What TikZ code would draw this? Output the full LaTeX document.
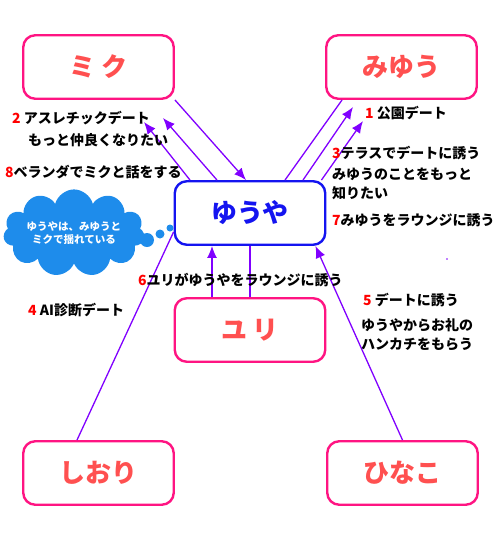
\documentclass[tikz,border=0pt]{standalone}
\usepackage{fontspec}
\usepackage{xcolor}
\usetikzlibrary{arrows.meta,shapes.symbols}
\newfontfamily\jp{Noto Sans CJK JP Black}
\definecolor{boxpink}{RGB}{255,20,130}
\definecolor{namered}{RGB}{255,80,80}
\definecolor{heroblue}{RGB}{20,20,240}
\definecolor{linkpurple}{RGB}{128,0,255}
\definecolor{numred}{RGB}{255,0,0}
\definecolor{cloudblue}{RGB}{30,140,235}
\newcommand\nr[1]{\textcolor{numred}{#1}}
\tikzset{
  person/.style={draw=boxpink, line width=2.4pt, rounded corners=12pt,
    minimum width=150.5pt, minimum height=63.5pt, text=namered,
    font=\jp\fontsize{26}{26}\selectfont},
  hero/.style={person, draw=heroblue, text=heroblue},
  lbl/.style={anchor=west, inner sep=0pt, font=\jp\fontsize{14}{14}\selectfont},
  link/.style={draw=linkpurple, line width=1.3pt},
  arr/.style={link, -{Latex[length=12pt,width=10pt]}},
}
\begin{document}
\begin{tikzpicture}[x=1pt,y=-1pt]
\useasboundingbox (0,0) rectangle (500,542);
% people
\node[person] (miku) at (98.5,67) {ミ ク};
\node[person] (miyuu) at (401.5,67) {みゆう};
\node[hero] (yuuya) at (250,213) {ゆうや};
\node[person] (yuri) at (250,330) {ユ リ};
\node[person] (shiori) at (98.5,473) {しおり};
\node[person] (hinako) at (402.5,473) {ひなこ};
% free arrow ends
\coordinate (m2) at (163,118);
\coordinate (m3) at (144,122);
\coordinate (y2) at (353,107);
\coordinate (y3) at (363,121);
% links
\draw[arr] (miku.south east) -- ([xshift=-4pt]yuuya.north);
\draw[arr] ([xshift=-33pt]yuuya.north) -- (m2);
\draw[arr] ([xshift=-60pt]yuuya.north) -- (m3);
\draw[link] ([xshift=35pt]yuuya.north) -- ([xshift=17pt]miyuu.south west);
\draw[arr] ([xshift=53pt]yuuya.north) -- (y2);
\draw[arr] ([xshift=-5pt]yuuya.north east) -- (y3);
\draw[arr] ([xshift=-38pt]yuri.north) -- ([xshift=-38pt]yuuya.south);
\draw[link] (yuuya.south) -- (yuri.north);
\draw[link] ([xshift=-21.5pt]shiori.north) -- ([yshift=-19pt]yuuya.west);
\draw[arr] (hinako.north) -- ([xshift=-11pt]yuuya.south east);
\fill[linkpurple] (447,259) circle (0.8);
% labels
\node[lbl] (l2a) at (12,118) {\nr{2} アスレチックデート};
\node[lbl] (l2b) at (28,140) {もっと仲良くなりたい};
\node[lbl] (l8) at (5,172) {\nr{8}ベランダでミクと話をする};
\node[lbl] (l1) at (365,113) {\nr{1} 公園デート};
\node[lbl] (l3a) at (332,153) {\nr{3}テラスでデートに誘う};
\node[lbl] (l3b) at (332,174) {みゆうのことをもっと};
\node[lbl] (l3c) at (332,193) {知りたい};
\node[lbl] (l7) at (332,220) {\nr{7}みゆうをラウンジに誘う};
\node[lbl] (l6) at (138,280) {\nr{6}ユリがゆうやをラウンジに誘う};
\node[lbl] (l4) at (28,310) {\nr{4} AI診断デート};
\node[lbl] (l5a) at (363,300) {\nr{5} デートに誘う};
\node[lbl] (l5b) at (361,325) {ゆうやからお礼の};
\node[lbl] (l5c) at (361,344) {ハンカチをもらう};
% thought cloud
\node[cloud, cloud puffs=11, aspect=2.2, fill=cloudblue, text=white, inner sep=0pt,
  minimum width=124pt, minimum height=62pt, align=center,
  font=\jp\fontsize{10.5}{13.5}\selectfont] (think) at (74,233)
  {ゆうやは、みゆうと\\ミクで揺れている};
\fill[cloudblue] (147,240) circle (7);
\fill[cloudblue] (160,234) circle (4.5);
\fill[cloudblue] (170,228) circle (3.5);
\end{tikzpicture}
\end{document}
